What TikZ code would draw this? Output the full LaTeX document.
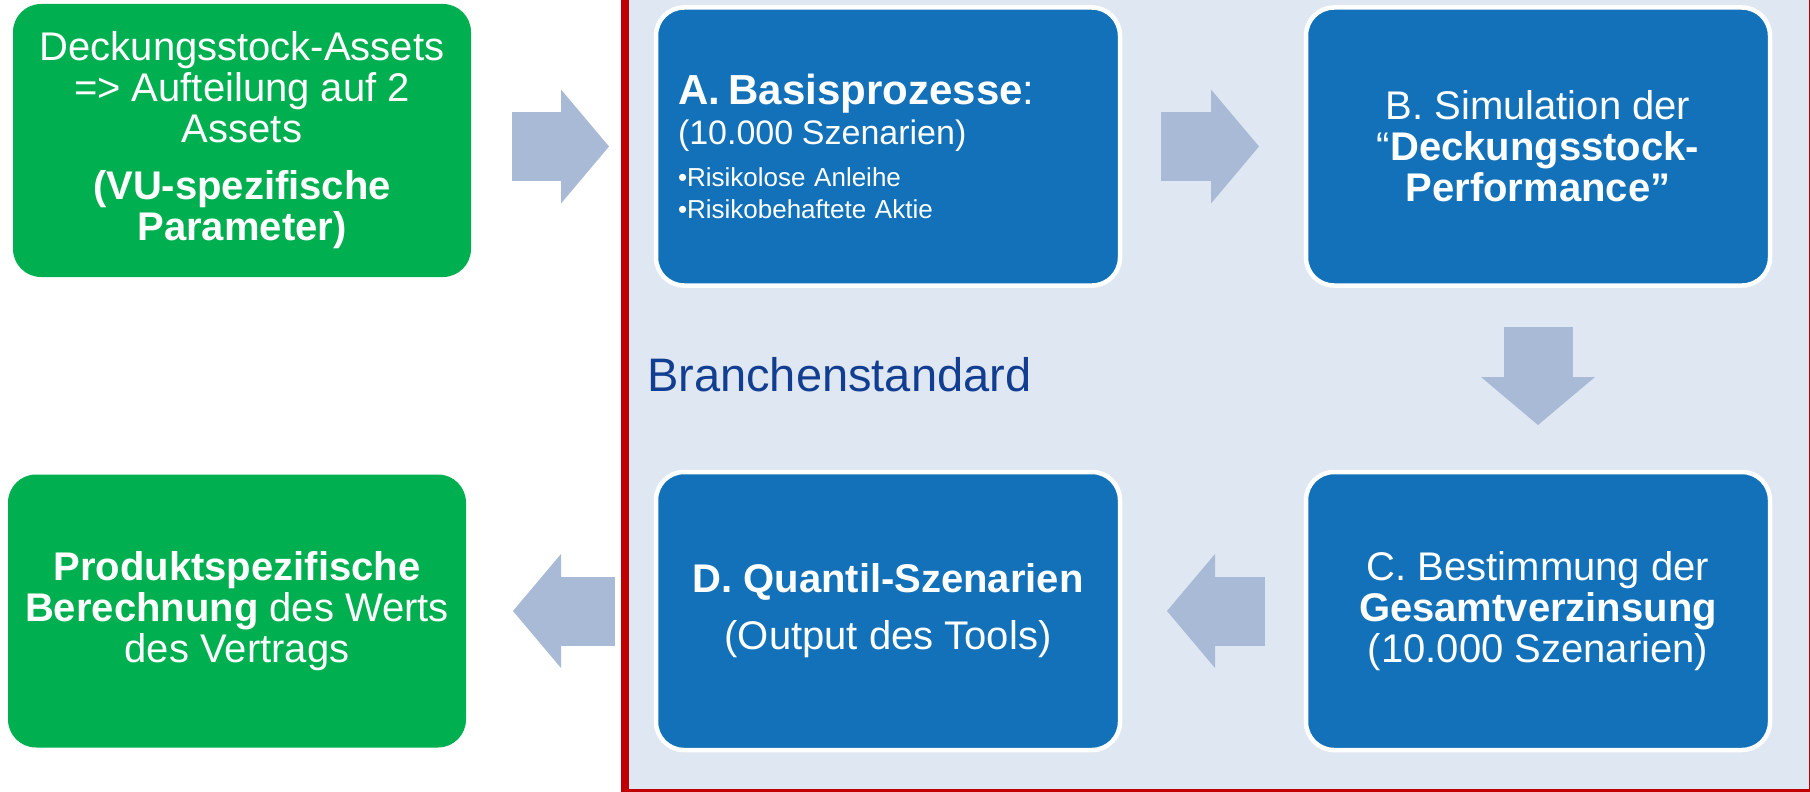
\documentclass[tikz,border=0pt]{standalone}
\usepackage{fontspec}
\setmainfont{Liberation Sans}
\usetikzlibrary{arrows.meta}
\definecolor{vugreen}{HTML}{00AF50}
\definecolor{stageblue}{HTML}{1271B8}
\definecolor{bandbg}{HTML}{DFE7F3}
\definecolor{bandred}{HTML}{C00000}
\definecolor{bandtitle}{HTML}{123E92}
\definecolor{flowgray}{HTML}{A9BAD6}
\lineskiplimit=-100pt
\tikzset{
  card/.style = {rounded corners = 28pt, minimum width = 458pt,
                 minimum height = 273pt, fill = vugreen, text = white,
                 inner sep = 0pt, outer sep = 0pt, align = center,
                 font = \fontsize{40}{41}\selectfont},
  stage/.style = {card, fill = stageblue, draw = white, line width = 4.5pt,
                  minimum width = 464pt, minimum height = 278pt},
  flow/.style = {draw = flowgray, line width = 69pt,
                 shorten <= 41pt, shorten >= 47pt,
                 -{Triangle[width = 114pt, length = 48pt, line width = 0pt]}}
}
\begin{document}
\begin{tikzpicture}[x = 1pt, y = -1pt]
  \useasboundingbox (0,0) rectangle (1810,792);
  \clip (0,0) rectangle (1810,792);
  \fill [white] (0,0) rectangle (1810,792);
  \draw [fill = bandbg, draw = bandred, line width = 8pt]
        (625,-20) rectangle (1813,793);
  \node [anchor = base west, inner sep = 0pt, text = bandtitle,
         font = \fontsize{47}{50}\selectfont] (band) at (647,391)
        {Branchenstandard};
  \node [card] (g1) at (242,140.5)
        {Deckungsstock-Assets\\ =>{} Aufteilung auf 2\\ Assets\\[16pt]
         \textbf{(VU-spezifische}\\ \textbf{Parameter)}};
  \node [card] (g2) at (237,611)
        {\textbf{Produktspezifische}\\ \textbf{Berechnung} des Werts\\
         des Vertrags};
  \node [stage, align = left, text width = 420pt,
         font = \fontsize{26}{32}\selectfont] (A) at (888,146.5)
        {{\fontsize{42}{32}\selectfont\bfseries A. Basisprozesse}%
         {\fontsize{42}{32}\selectfont :}\\[6pt]
         {\fontsize{34}{32}\selectfont (10.000 Szenarien)}\\[10pt]
         •Risikolose Anleihe\\
         •Risikobehaftete Aktie};
  \node [stage] (B) at (1538,146.5)
        {B. Simulation der\\ “\textbf{Deckungsstock-}\\
         \textbf{Performance”}};
  \node [stage] (C) at (1538,611)
        {C. Bestimmung der\\ \textbf{Gesamtverzinsung}\\
         (10.000 Szenarien)};
  \node [stage] (D) at (888,611)
        {\textbf{D. Quantil-Szenarien}\\[16pt] (Output des Tools)};
  \draw [flow] (g1.east |- A) -- (A);
  \foreach \from/\to in {A/B, B/C, C/D, D/g2}
    \draw [flow] (\from) -- (\to);
\end{tikzpicture}
\end{document}
